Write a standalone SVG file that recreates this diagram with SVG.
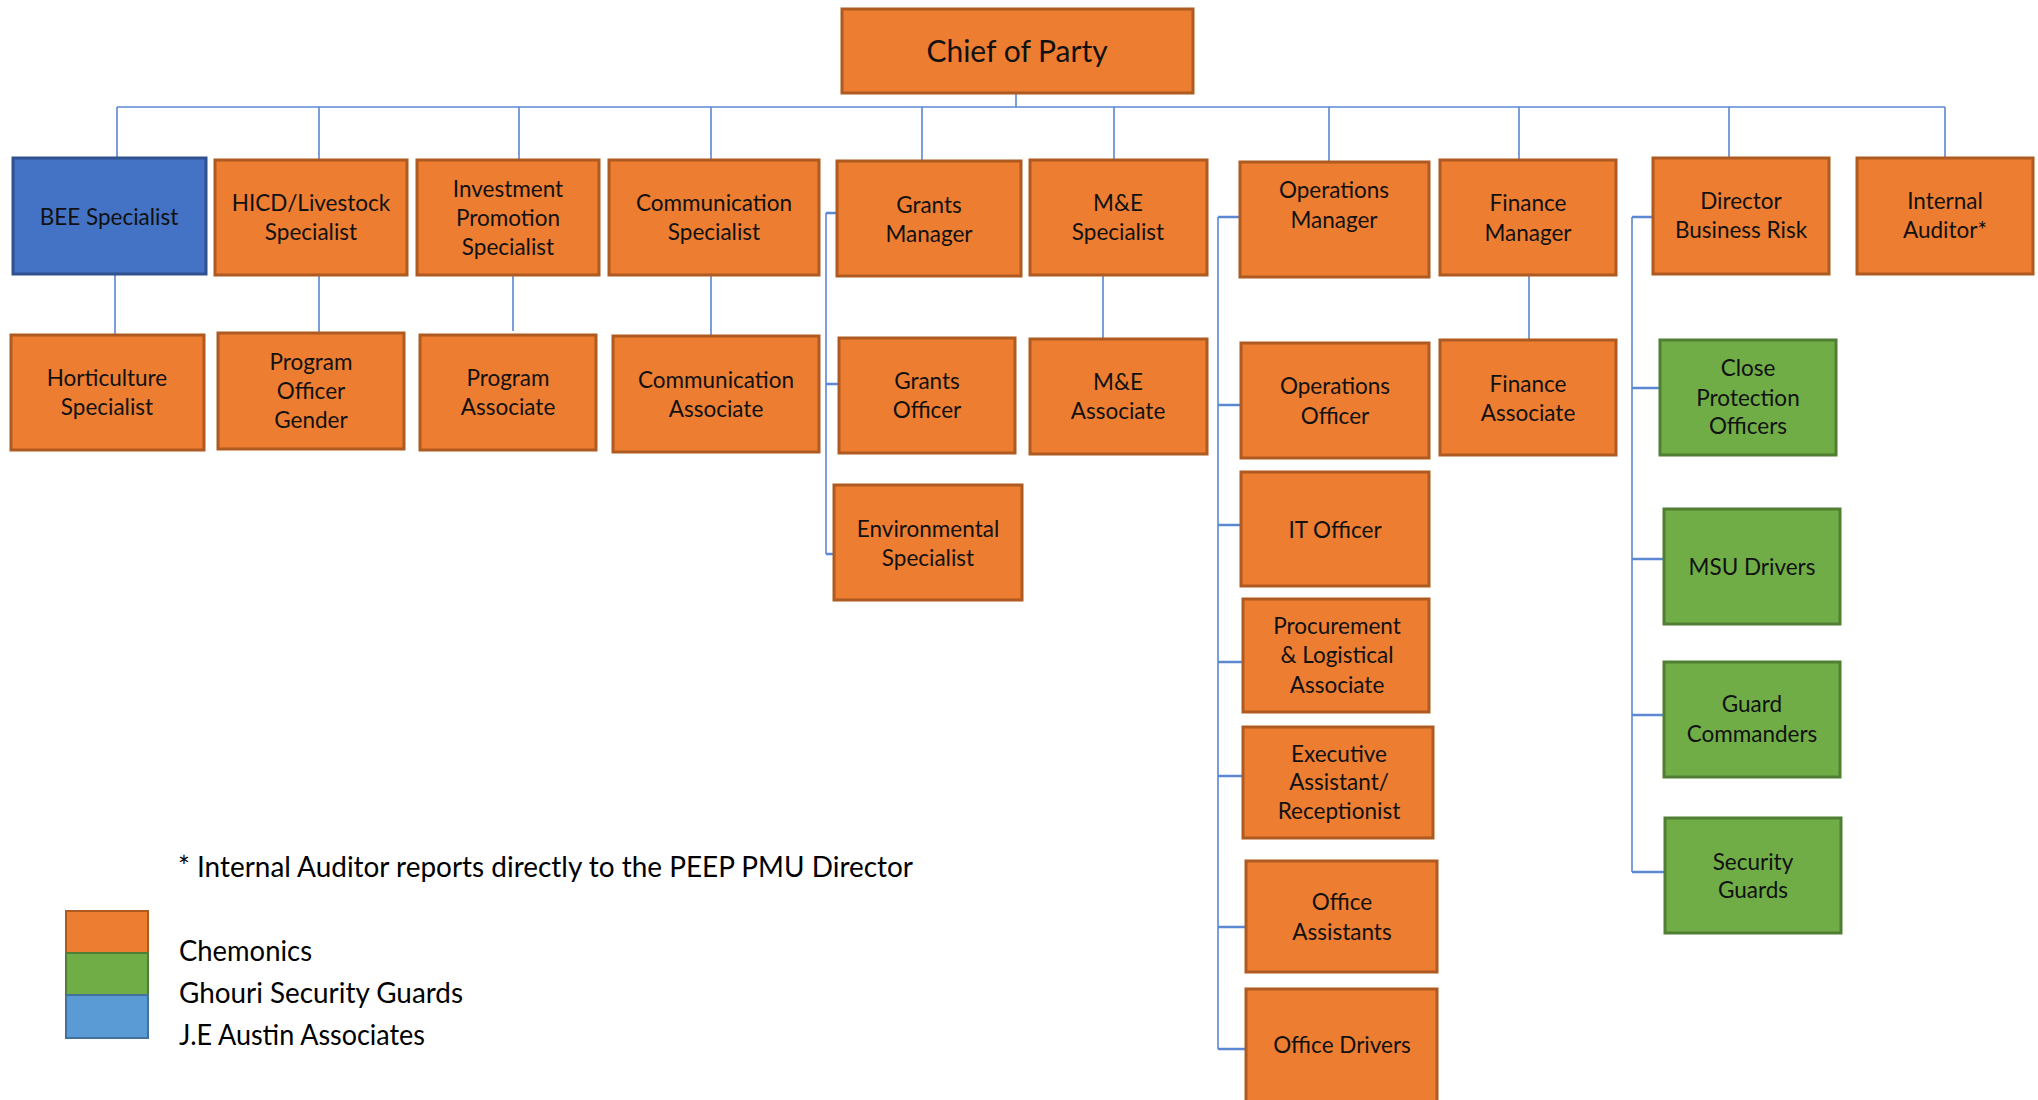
<svg xmlns="http://www.w3.org/2000/svg" width="2038" height="1100" viewBox="0 0 2038 1100">
  <style>
    .org { fill: #ED7D31; stroke: #AE5A21; stroke-width: 3; }
    .grn { fill: #70AD47; stroke: #507E32; stroke-width: 3; }
    .blu { fill: #4472C4; stroke: #2F528F; stroke-width: 3; }
    .lbl { font-family: Lato, "Liberation Sans", sans-serif; font-size: 22.5px; fill: #111; text-anchor: middle; }
    .big { font-family: Lato, "Liberation Sans", sans-serif; font-size: 30px; fill: #111; text-anchor: middle; }
    .leg { font-family: Lato, "Liberation Sans", sans-serif; font-size: 28px; fill: #000; }
    .ln { stroke: #5B87D3; stroke-width: 1.6; fill: none; }
    .tk { stroke: #5B87D3; stroke-width: 2.4; fill: none; }
  </style>

  <rect width="2038" height="1100" fill="#FFFFFF"/>

  <!-- reporting lines -->
  <g id="connectors">
    <path class="ln" d="M1016 93 V107"/>
    <path class="ln" stroke-width="2" d="M117 107 H1945"/>
    <path class="ln" d="M117 107 V158 M319 107 V160 M519 107 V160 M711 107 V160 M922 107 V161 M1114 107 V160 M1329 107 V162 M1519 107 V160 M1729 107 V158 M1945 107 V158"/>
    <path class="ln" d="M115 274 V335 M319 275 V333 M513 275 V331 M711 275 V336 M1103 275 V339 M1529 275 V340"/>
    <!-- grants bracket -->
    <path class="ln" d="M826 213 V554"/>
    <path class="tk" d="M826 213 H837 M826 384 H839 M826 554 H834"/>
    <!-- operations bracket -->
    <path class="ln" d="M1218 217 V1049"/>
    <path class="tk" d="M1218 217 H1240 M1218 405 H1241 M1218 525 H1241 M1218 662 H1243 M1218 776 H1243 M1218 927 H1246 M1218 1049 H1246"/>
    <!-- security bracket -->
    <path class="ln" d="M1632 217 V872"/>
    <path class="tk" d="M1632 217 H1653 M1632 388 H1659 M1632 559 H1664 M1632 715 H1664 M1632 872 H1665"/>
  </g>

  <g id="chief-of-party">
    <rect class="org" x="842" y="9" width="351" height="84"/>
    <text class="big" x="1017" y="62">Chief of Party</text>
  </g>

  <!-- first tier -->
  <g id="bee-specialist">
    <rect class="blu" x="13" y="158" width="193" height="116"/>
    <text class="lbl" x="109" y="225">BEE Specialist</text>
  </g>
  <g id="hicd-livestock-specialist">
    <rect class="org" x="215" y="160" width="192" height="115"/>
    <text class="lbl" x="311" y="211">HICD/Livestock</text>
    <text class="lbl" x="311" y="240">Specialist</text>
  </g>
  <g id="investment-promotion-specialist">
    <rect class="org" x="417" y="160" width="182" height="115"/>
    <text class="lbl" x="508" y="197">Investment</text>
    <text class="lbl" x="508" y="226">Promotion</text>
    <text class="lbl" x="508" y="255">Specialist</text>
  </g>
  <g id="communication-specialist">
    <rect class="org" x="609" y="160" width="210" height="115"/>
    <text class="lbl" x="714" y="211">Communication</text>
    <text class="lbl" x="714" y="240">Specialist</text>
  </g>
  <g id="grants-manager">
    <rect class="org" x="837" y="161" width="184" height="115"/>
    <text class="lbl" x="929" y="213">Grants</text>
    <text class="lbl" x="929" y="242">Manager</text>
  </g>
  <g id="me-specialist">
    <rect class="org" x="1030" y="160" width="177" height="115"/>
    <text class="lbl" x="1118" y="211">M&amp;E</text>
    <text class="lbl" x="1118" y="240">Specialist</text>
  </g>
  <g id="operations-manager">
    <rect class="org" x="1240" y="162" width="189" height="115"/>
    <text class="lbl" x="1334" y="198">Operations</text>
    <text class="lbl" x="1334" y="228">Manager</text>
  </g>
  <g id="finance-manager">
    <rect class="org" x="1440" y="160" width="176" height="115"/>
    <text class="lbl" x="1528" y="211">Finance</text>
    <text class="lbl" x="1528" y="241">Manager</text>
  </g>
  <g id="director-business-risk">
    <rect class="org" x="1653" y="158" width="176" height="116"/>
    <text class="lbl" x="1741" y="209">Director</text>
    <text class="lbl" x="1741" y="238">Business Risk</text>
  </g>
  <g id="internal-auditor">
    <rect class="org" x="1857" y="158" width="176" height="116"/>
    <text class="lbl" x="1945" y="209">Internal</text>
    <text class="lbl" x="1945" y="238">Auditor*</text>
  </g>

  <!-- second tier -->
  <g id="horticulture-specialist">
    <rect class="org" x="11" y="335" width="193" height="115"/>
    <text class="lbl" x="107" y="386">Horticulture</text>
    <text class="lbl" x="107" y="415">Specialist</text>
  </g>
  <g id="program-officer-gender">
    <rect class="org" x="218" y="333" width="186" height="116"/>
    <text class="lbl" x="311" y="370">Program</text>
    <text class="lbl" x="311" y="399">Officer</text>
    <text class="lbl" x="311" y="428">Gender</text>
  </g>
  <g id="program-associate">
    <rect class="org" x="420" y="335" width="176" height="115"/>
    <text class="lbl" x="508" y="386">Program</text>
    <text class="lbl" x="508" y="415">Associate</text>
  </g>
  <g id="communication-associate">
    <rect class="org" x="613" y="336" width="206" height="116"/>
    <text class="lbl" x="716" y="388">Communication</text>
    <text class="lbl" x="716" y="417">Associate</text>
  </g>
  <g id="grants-officer">
    <rect class="org" x="839" y="338" width="176" height="115"/>
    <text class="lbl" x="927" y="389">Grants</text>
    <text class="lbl" x="927" y="418">Officer</text>
  </g>
  <g id="environmental-specialist">
    <rect class="org" x="834" y="485" width="188" height="115"/>
    <text class="lbl" x="928" y="537">Environmental</text>
    <text class="lbl" x="928" y="566">Specialist</text>
  </g>
  <g id="me-associate">
    <rect class="org" x="1030" y="339" width="177" height="115"/>
    <text class="lbl" x="1118" y="390">M&amp;E</text>
    <text class="lbl" x="1118" y="419">Associate</text>
  </g>
  <g id="operations-officer">
    <rect class="org" x="1241" y="343" width="188" height="115"/>
    <text class="lbl" x="1335" y="394">Operations</text>
    <text class="lbl" x="1335" y="424">Officer</text>
  </g>
  <g id="it-officer">
    <rect class="org" x="1241" y="472" width="188" height="114"/>
    <text class="lbl" x="1335" y="538">IT Officer</text>
  </g>
  <g id="procurement-logistical-associate">
    <rect class="org" x="1243" y="599" width="186" height="113"/>
    <text class="lbl" x="1337" y="634">Procurement</text>
    <text class="lbl" x="1337" y="663">&amp; Logistical</text>
    <text class="lbl" x="1337" y="693">Associate</text>
  </g>
  <g id="executive-assistant-receptionist">
    <rect class="org" x="1243" y="727" width="190" height="111"/>
    <text class="lbl" x="1339" y="762">Executive</text>
    <text class="lbl" x="1339" y="790">Assistant/</text>
    <text class="lbl" x="1339" y="819">Receptionist</text>
  </g>
  <g id="office-assistants">
    <rect class="org" x="1246" y="861" width="191" height="111"/>
    <text class="lbl" x="1342" y="910">Office</text>
    <text class="lbl" x="1342" y="940">Assistants</text>
  </g>
  <g id="office-drivers">
    <rect class="org" x="1246" y="989" width="191" height="130"/>
    <text class="lbl" x="1342" y="1053">Office Drivers</text>
  </g>
  <g id="finance-associate">
    <rect class="org" x="1440" y="340" width="176" height="115"/>
    <text class="lbl" x="1528" y="392">Finance</text>
    <text class="lbl" x="1528" y="421">Associate</text>
  </g>

  <!-- security contractor -->
  <g id="close-protection-officers">
    <rect class="grn" x="1660" y="340" width="176" height="115"/>
    <text class="lbl" x="1748" y="376">Close</text>
    <text class="lbl" x="1748" y="406">Protection</text>
    <text class="lbl" x="1748" y="434">Officers</text>
  </g>
  <g id="msu-drivers">
    <rect class="grn" x="1664" y="509" width="176" height="115"/>
    <text class="lbl" x="1752" y="575">MSU Drivers</text>
  </g>
  <g id="guard-commanders">
    <rect class="grn" x="1664" y="662" width="176" height="115"/>
    <text class="lbl" x="1752" y="712">Guard</text>
    <text class="lbl" x="1752" y="742">Commanders</text>
  </g>
  <g id="security-guards">
    <rect class="grn" x="1665" y="818" width="176" height="115"/>
    <text class="lbl" x="1753" y="870">Security</text>
    <text class="lbl" x="1753" y="898">Guards</text>
  </g>

  <!-- footnote and legend -->
  <g id="legend">
    <text class="leg" x="178" y="877" textLength="735" lengthAdjust="spacingAndGlyphs">* Internal Auditor reports directly to the PEEP PMU Director</text>
    <rect x="66" y="911" width="82" height="42" fill="#ED7D31" stroke="#AE5A21" stroke-width="2"/>
    <rect x="66" y="953" width="82" height="42" fill="#70AD47" stroke="#507E32" stroke-width="2"/>
    <rect x="66" y="995" width="82" height="43" fill="#5B9BD5" stroke="#41719C" stroke-width="2"/>
    <text class="leg" x="179" y="961" textLength="133" lengthAdjust="spacingAndGlyphs">Chemonics</text>
    <text class="leg" x="179" y="1003" textLength="284" lengthAdjust="spacingAndGlyphs">Ghouri Security Guards</text>
    <text class="leg" x="179" y="1045" textLength="246" lengthAdjust="spacingAndGlyphs">J.E Austin Associates</text>
  </g>
</svg>
